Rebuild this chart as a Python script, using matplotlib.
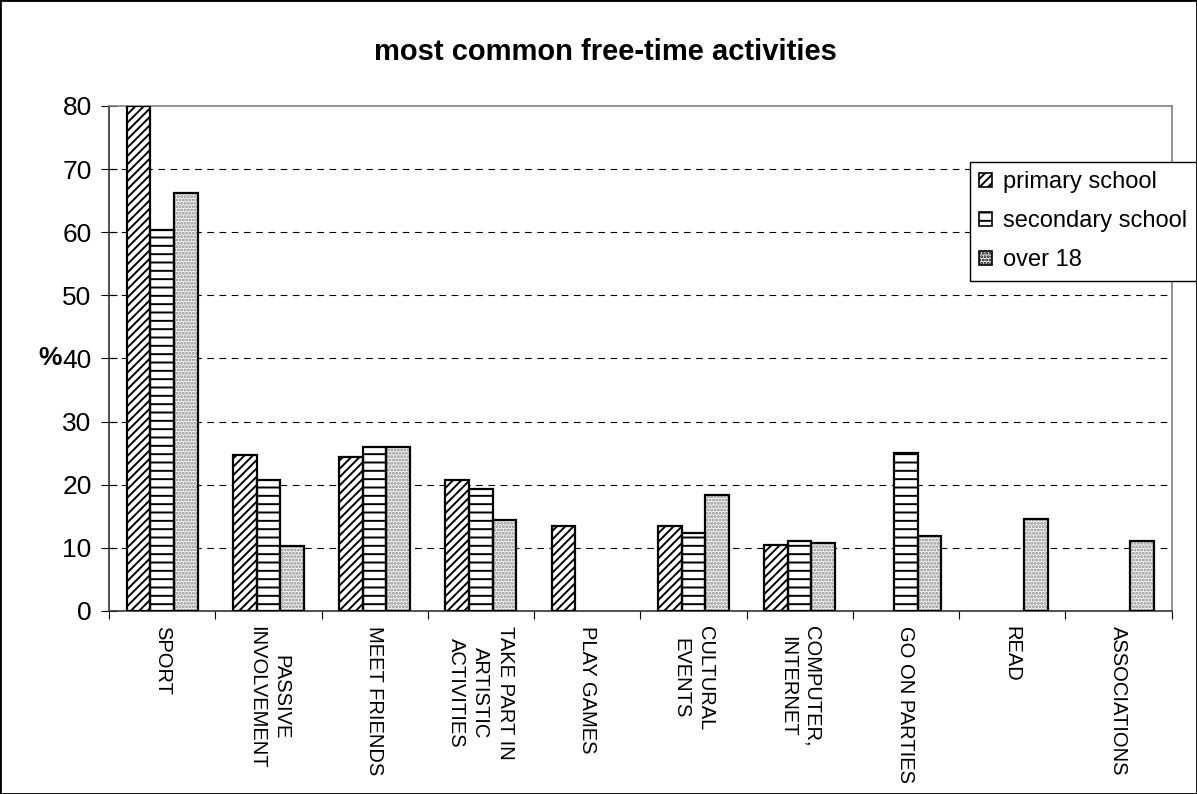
import matplotlib
matplotlib.use("Agg")
import matplotlib.pyplot as plt
import numpy as np
from matplotlib.patches import Rectangle

plt.rcParams['font.family'] = ['Liberation Sans', 'DejaVu Sans']
plt.rcParams['hatch.linewidth'] = 1.4

categories = ["SPORT", "PASSIVE\nINVOLVEMENT", "MEET FRIENDS",
              "TAKE PART IN\nARTISTIC\nACTIVITIES", "PLAY GAMES",
              "CULTURAL\nEVENTS", "COMPUTER,\nINTERNET", "GO ON PARTIES",
              "READ", "ASSOCIATIONS"]
series_names = ["primary school", "secondary school", "over 18"]
primary = [80.0, 24.7, 24.4, 20.8, 13.5, 13.5, 10.5, 0, 0, 0]
secondary = [60.3, 20.8, 25.9, 19.4, 0, 12.3, 11.1, 25.1, 0, 0]
over18 = [66.2, 10.3, 25.9, 14.4, 0, 18.3, 10.8, 11.8, 14.5, 11.1]
y_ticks = [0, 10, 20, 30, 40, 50, 60, 70, 80]

fig = plt.figure(figsize=(11.97, 7.94), dpi=100)
ax = fig.add_axes([0.0911, 0.2305, 0.8876, 0.636])

x = np.arange(len(categories))
w = 1 / 4.5
styles = [
    dict(hatch='////', facecolor='white', hcolor='black'),
    dict(hatch='--', facecolor='white', hcolor='black'),
    dict(hatch='.....', facecolor='#f4f4f4', hcolor='#8a8a8a'),
]
handles = []
for i, (vals, st, name) in enumerate(zip([primary, secondary, over18], styles, series_names)):
    pos = x + (i - 1) * w
    vals = np.array(vals, dtype=float)
    heights = np.where(vals > 0, vals, np.nan)  # empty categories get no bar
    # hatched fill
    ax.bar(pos, heights, width=w, facecolor=st['facecolor'], edgecolor=st['hcolor'],
           hatch=st['hatch'], linewidth=0, zorder=3)
    # outline
    ax.bar(pos, heights, width=w, fill=False, edgecolor='black', linewidth=1.6, zorder=4)
    handles.append(Rectangle((0, 0), 1, 1, facecolor=st['facecolor'], edgecolor='black',
                             hatch=st['hatch'], linewidth=1.2, label=name))

ax.set_xlim(-0.5, len(categories) - 0.5)
ax.set_ylim(0, 80)
ax.set_yticks(y_ticks)
ax.set_yticklabels([str(v) for v in y_ticks], fontsize=19)
ax.set_xticks(np.arange(len(categories) + 1) - 0.5)
ax.set_xticklabels([])
ax.tick_params(axis='x', direction='out', length=6, width=0.8)
ax.tick_params(axis='y', direction='inout', length=11, width=0.8, pad=7)

for i, c in enumerate(categories):
    ax.text(i, -2.4, c, rotation=-90, ha='center', va='top', fontsize=14.5,
            multialignment='center', linespacing=1.35)

for v in y_ticks[1:-1]:
    ax.axhline(v, color='black', linestyle=(0, (6, 5)), linewidth=0.8, zorder=1)

for side in ['top', 'right']:
    ax.spines[side].set_color('#808080')
    ax.spines[side].set_linewidth(1.2)
for side in ['left', 'bottom']:
    ax.spines[side].set_color('#333333')
    ax.spines[side].set_linewidth(1.2)

ax.text(62 / 1197 / 0.8876 - 0.0911 / 0.8876, 40, '%', transform=ax.get_yaxis_transform(),
        ha='right', va='center', fontsize=19, fontweight='bold')

fig.text(605 / 1197, 1 - 52 / 794, 'most common free-time activities', ha='center',
         va='center', fontsize=21, fontweight='bold')

leg = fig.legend(handles=handles, loc='upper left',
                 bbox_to_anchor=(970 / 1197, 1 - 162 / 794),
                 bbox_transform=fig.transFigure, fontsize=17, frameon=True,
                 fancybox=False, edgecolor='black', framealpha=1,
                 handlelength=0.55, handleheight=0.55, handletextpad=0.45,
                 labelspacing=0.72, borderpad=0.4, borderaxespad=0)
leg.get_frame().set_linewidth(1.0)

fig.patches.append(Rectangle((0, 0), 1, 1, transform=fig.transFigure, fill=False,
                             edgecolor='black', linewidth=2, zorder=10))

fig.savefig('out.png', dpi=100)
